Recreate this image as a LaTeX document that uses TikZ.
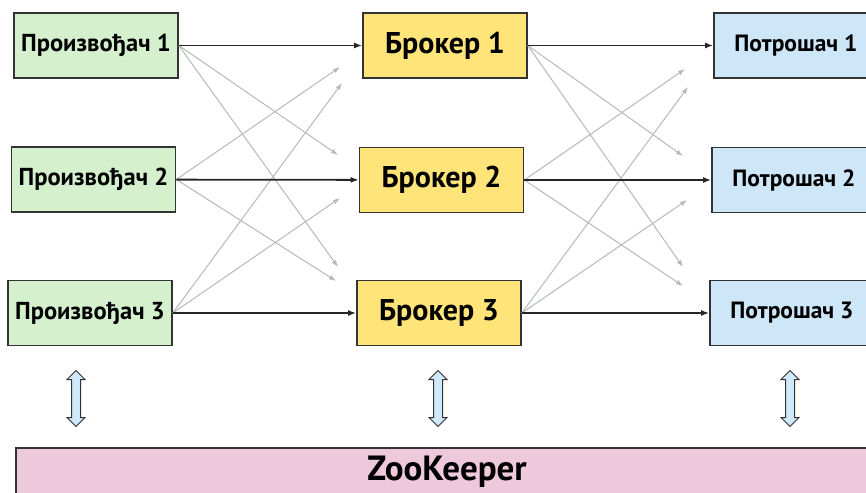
\documentclass[tikz,border=0pt]{standalone}
\usepackage{fontspec}
\setmainfont{PT Sans}
\usetikzlibrary{arrows.meta,shapes.arrows}
\definecolor{prodfill}{HTML}{D4F0CC}
\definecolor{brokfill}{HTML}{FFE47A}
\definecolor{consfill}{HTML}{CDE6F8}
\definecolor{zkfill}{HTML}{EEC8DB}
\definecolor{boxline}{HTML}{333333}
\definecolor{faint}{HTML}{B4BAB4}
\definecolor{dblfill}{HTML}{CFE8FA}
\tikzset{
  box/.style={draw=boxline, line width=1.6pt, minimum height=65pt, inner sep=0pt},
  prod/.style={box, fill=prodfill, minimum width=164pt, font=\bfseries\fontsize{24.5}{27}\selectfont},
  brok/.style={box, fill=brokfill, minimum width=164pt, font=\bfseries\fontsize{30}{34}\selectfont},
  cons/.style={box, fill=consfill, minimum width=164pt, font=\bfseries\fontsize{23.5}{26}\selectfont},
  zk/.style={box, fill=zkfill, minimum width=866pt, minimum height=64pt},
  zktext/.style={font=\bfseries\fontsize{35}{40}\selectfont, inner sep=0pt},
  main/.style={draw=black!85, line width=1.8pt, -{Latex[length=8pt,width=6pt]}},
  mainthick/.style={main, line width=2.4pt},
  cross/.style={draw=faint, line width=1pt, -{Latex[length=7pt,width=5pt]}},
  zkarrow/.style={double arrow, draw=boxline, fill=dblfill, line width=1pt, rotate=90,
    inner xsep=0pt, inner ysep=4pt, minimum height=56pt,
    double arrow head extend=4.5pt, double arrow head indent=0pt},
}
\begin{document}
\begin{tikzpicture}[x=1pt,y=-1pt]
\useasboundingbox (0,0) rectangle (866,492);
% producers
\node[prod] (P1) at (96,45.5) {Произвођач 1};
\node[prod] (P2) at (93.5,179.5) {Произвођач 2};
\node[prod] (P3) at (90,313) {Произвођач 3};
% brokers
\node[brok] (B1) at (445,45.5) {Брокер 1};
\node[brok] (B2) at (441.5,180) {Брокер 2};
\node[brok] (B3) at (439,313) {Брокер 3};
% consumers (cut by the right edge)
\node[cons] (C1) at (796,45.5) {Потрошач 1};
\node[cons] (C2) at (794,180) {Потрошач 2};
\node[cons] (C3) at (792,313) {Потрошач 3};
% zookeeper
\node[zk, anchor=north west] (ZK) at (15,447) {};
\node[zktext] (ZKt) at (447,472) {ZooKeeper};
% free ends of the faint arrows
\coordinate (a1) at (340,67);  \coordinate (a2) at (342,83);
\coordinate (a3) at (338,155); \coordinate (a4) at (340,198);
\coordinate (a5) at (338,267); \coordinate (a6) at (336,281);
\coordinate (b1) at (685,69);  \coordinate (b2) at (688,87);
\coordinate (b3) at (683,156); \coordinate (b4) at (687,200);
\coordinate (b5) at (683,267); \coordinate (b6) at (683,286);
% faint cross arrows
\draw[cross] (P1.east) -- (a3);
\draw[cross] (P1.east) -- (a5);
\draw[cross] (P2.east) -- (a1);
\draw[cross] (P2.east) -- (a6);
\draw[cross] (P3.east) -- (a2);
\draw[cross] (P3.east) -- (a4);
\draw[cross] (B1.east) -- (b3);
\draw[cross] (B1.east) -- (b5);
\draw[cross] (B2.east) -- (b1);
\draw[cross] (B2.east) -- (b6);
\draw[cross] (B3.east) -- (b2);
\draw[cross] (B3.east) -- (b4);
% main arrows
\draw[main] (P1) -- (B1);
\draw[main] (P2) -- (B2);
\draw[mainthick] (P3) -- (B3);
\draw[main] (B1) -- (C1);
\draw[main] (B2) -- (C2);
\draw[mainthick] (B3) -- (C3);
% double arrows to zookeeper
\node[zkarrow] (D1) at (76,398.5) {};
\node[zkarrow] (D2) at (438,398.5) {};
\node[zkarrow] (D3) at (790,398.5) {};
\end{tikzpicture}
\end{document}
